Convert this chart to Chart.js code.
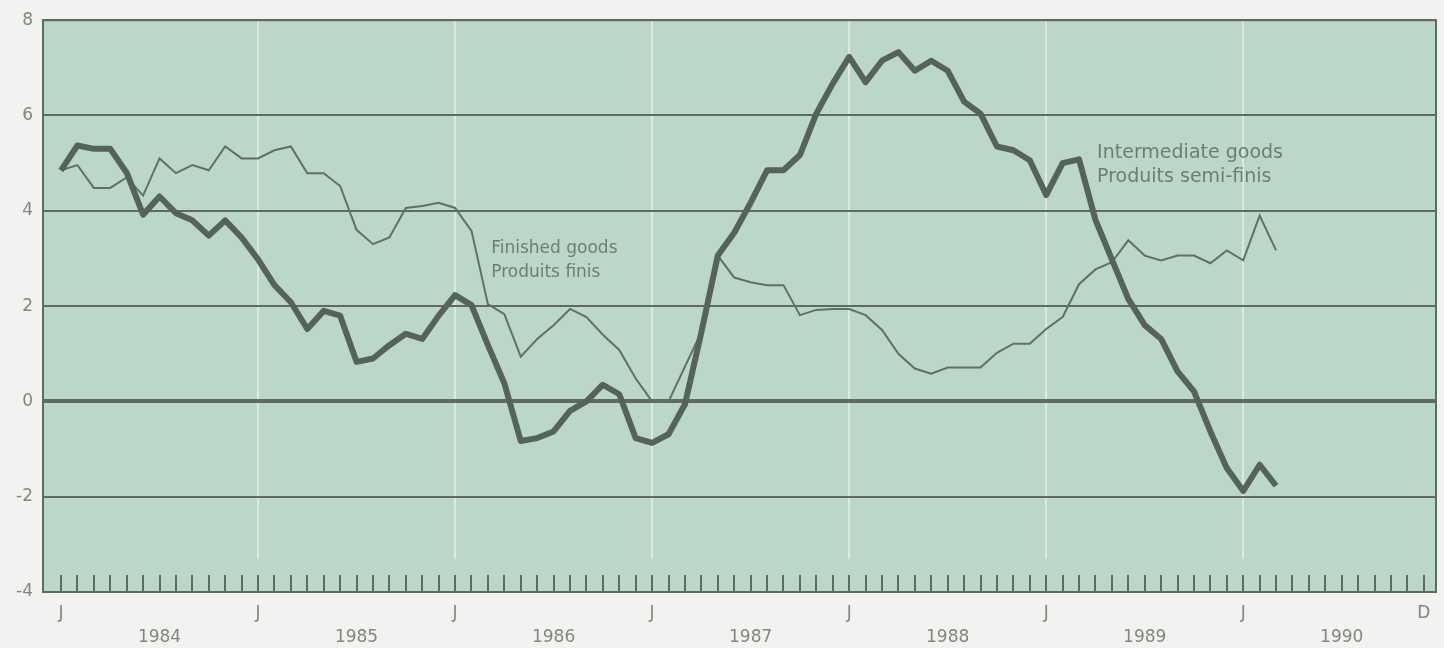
<!DOCTYPE html>
<html>
<head>
<meta charset="utf-8">
<script src="https://cdn.jsdelivr.net/npm/chart.js@4/dist/chart.umd.min.js"></script>
<style>
html,body{margin:0;padding:0;background:#f2f3f1;}
#wrap{width:1444px;height:648px;position:relative;}
</style>
</head>
<body>
<div id="wrap"><canvas id="c" width="1444" height="648"></canvas></div>
<script>
// ---- data (monthly, starting January 1984) ----
const startYear = 1984;
const monthCount = 84; // Jan 1984 .. Dec 1990
const yearLabels = ['1984','1985','1986','1987','1988','1989','1990'];
const yTickValues = [-4,-2,0,2,4,6,8];

// Intermediate goods / Produits semi-finis (thick line)
const intermediate = [
  4.85, 5.37, 5.30, 5.30, 4.80, 3.92, 4.30, 3.95, 3.80, 3.48, 3.80, 3.44,
  2.98, 2.44, 2.08, 1.52, 1.90, 1.80, 0.83, 0.90, 1.18, 1.42, 1.31, 1.80,
  2.23, 2.02, 1.18, 0.38, -0.83, -0.77, -0.63, -0.20, 0.00, 0.35, 0.15, -0.77,
  -0.87, -0.69, -0.06, 1.45, 3.06, 3.54, 4.17, 4.85, 4.85, 5.17, 6.04, 6.67,
  7.23, 6.70, 7.15, 7.33, 6.94, 7.15, 6.94, 6.29, 6.04, 5.35, 5.27, 5.06,
  4.33, 5.00, 5.08, 3.81, 2.98, 2.15, 1.60, 1.31, 0.63, 0.21, -0.63, -1.40,
  -1.88, -1.33, -1.77
];

// Finished goods / Produits finis (thin line)
const finished = [
  4.85, 4.96, 4.48, 4.48, 4.70, 4.32, 5.10, 4.79, 4.96, 4.85, 5.35, 5.10,
  5.10, 5.27, 5.35, 4.79, 4.79, 4.52, 3.60, 3.30, 3.44, 4.06, 4.10, 4.17,
  4.06, 3.58, 2.04, 1.83, 0.94, 1.31, 1.60, 1.94, 1.77, 1.40, 1.08, 0.48,
  0.00, 0.00, 0.73, 1.46, 3.06, 2.60, 2.50, 2.44, 2.44, 1.81, 1.92, 1.94,
  1.94, 1.81, 1.50, 1.00, 0.69, 0.58, 0.71, 0.71, 0.71, 1.02, 1.21, 1.21,
  1.52, 1.77, 2.46, 2.77, 2.92, 3.38, 3.06, 2.96, 3.06, 3.06, 2.90, 3.17,
  2.96, 3.90, 3.17
];

const finishedLabel = ['Finished goods', 'Produits finis'];
const intermediateLabel = ['Intermediate goods', 'Produits semi-finis'];
// label anchors in data units (month index, value of text baseline)
const finishedLabelAt = {x: 26.2, y1: 3.12, y2: 2.62};
const intermediateLabelAt = {x: 63.1, y1: 5.10, y2: 4.60};

// ---- styles ----
const C = {
  page: '#f2f3f1',
  plot: '#bdd6ca',
  grid: '#5d6c60',
  janLine: '#dbe9e2',
  thick: '#55645a',
  thin: '#5f7165',
  tickText: '#7f8781',
  labelText: '#6c7e71'
};

const monthTicks = Array.from({length: monthCount}, (_, i) => i);

const chartPlugin = {
  id: 'decor',
  beforeDraw(chart) {
    const {ctx, chartArea: a, scales: {x, y}} = chart;
    ctx.save();
    ctx.fillStyle = C.page;
    ctx.fillRect(0, 0, chart.width, chart.height);
    ctx.fillStyle = C.plot;
    ctx.fillRect(a.left, a.top, a.right - a.left, a.bottom - a.top);
    // light vertical lines at each January (from 1985)
    ctx.strokeStyle = C.janLine;
    ctx.lineWidth = 2;
    const yEnd = y.getPixelForValue(-3.3);
    for (let m = 12; m < monthCount; m += 12) {
      const px = Math.round(x.getPixelForValue(m));
      ctx.beginPath();
      ctx.moveTo(px, a.top);
      ctx.lineTo(px, yEnd);
      ctx.stroke();
    }
    ctx.restore();
  },
  beforeDatasetsDraw(chart) {
    const {ctx, chartArea: a, scales: {x, y}} = chart;
    ctx.save();
    // monthly tick marks along the bottom inside the plot
    ctx.strokeStyle = C.grid;
    ctx.lineWidth = 2;
    const yb = y.getPixelForValue(-4);
    for (const m of monthTicks) {
      const px = Math.round(x.getPixelForValue(m));
      ctx.beginPath();
      ctx.moveTo(px, yb);
      ctx.lineTo(px, yb - 17);
      ctx.stroke();
    }
    // frame
    ctx.lineWidth = 2;
    ctx.strokeRect(a.left, a.top, a.right - a.left, a.bottom - a.top);
    ctx.restore();
  },
  afterDatasetsDraw(chart) {
    const {ctx, scales: {x, y}} = chart;
    ctx.save();
    ctx.fillStyle = C.labelText;
    ctx.textAlign = 'left';
    ctx.textBaseline = 'alphabetic';
    ctx.font = '17px "DejaVu Sans"';
    ctx.fillText(finishedLabel[0], x.getPixelForValue(finishedLabelAt.x), y.getPixelForValue(finishedLabelAt.y1));
    ctx.fillText(finishedLabel[1], x.getPixelForValue(finishedLabelAt.x), y.getPixelForValue(finishedLabelAt.y2));
    ctx.font = '19px "DejaVu Sans"';
    ctx.fillText(intermediateLabel[0], x.getPixelForValue(intermediateLabelAt.x), y.getPixelForValue(intermediateLabelAt.y1));
    ctx.fillText(intermediateLabel[1], x.getPixelForValue(intermediateLabelAt.x), y.getPixelForValue(intermediateLabelAt.y2));
    ctx.restore();
  }
};

new Chart(document.getElementById('c'), {
  type: 'line',
  data: {
    datasets: [
      {
        label: intermediateLabel[0],
        data: intermediate.map((v, i) => ({x: i, y: v})),
        borderColor: C.thick,
        borderWidth: 6,
        pointRadius: 0,
        tension: 0,
        borderJoinStyle: 'round',
        borderCapStyle: 'butt',
        fill: false
      },
      {
        label: finishedLabel[0],
        data: finished.map((v, i) => ({x: i, y: v})),
        borderColor: C.thin,
        borderWidth: 2,
        pointRadius: 0,
        tension: 0,
        fill: false
      }
    ]
  },
  options: {
    responsive: false,
    animation: false,
    layout: {padding: {left: 0, right: 8, top: 18, bottom: 0}},
    plugins: {legend: {display: false}, tooltip: {enabled: false}},
    scales: {
      x: {
        type: 'linear',
        min: -1.096,
        max: 83.74,
        afterBuildTicks: s => { s.ticks = monthTicks.map(v => ({value: v})); },
        afterFit: s => { s.height = 56; },
        grid: {display: false, drawTicks: false},
        border: {display: false},
        ticks: {
          autoSkip: false,
          maxRotation: 0,
          minRotation: 0,
          padding: 9,
          color: C.tickText,
          font: {family: '"DejaVu Sans"', size: 17, lineHeight: 1.45},
          callback: (v) => {
            const m = Math.round(v);
            if (m === monthCount - 1) return 'D';
            if (m % 12 === 0) return 'J';
            if (m % 12 === 6) return ['', yearLabels[Math.floor(m / 12)]];
            return '';
          }
        }
      },
      y: {
        min: -4,
        max: 8,
        afterBuildTicks: s => { s.ticks = yTickValues.map(v => ({value: v})); },
        afterFit: s => { s.width = 43; },
        grid: {
          color: C.grid,
          lineWidth: c => (c.tick && c.tick.value === 0 ? 4 : 2),
          drawTicks: false
        },
        border: {display: true, color: C.grid, width: 2},
        ticks: {
          padding: 10,
          color: C.tickText,
          font: {family: '"DejaVu Sans"', size: 17},
          callback: v => String(v)
        }
      }
    }
  },
  plugins: [chartPlugin]
});
</script>
</body>
</html>
